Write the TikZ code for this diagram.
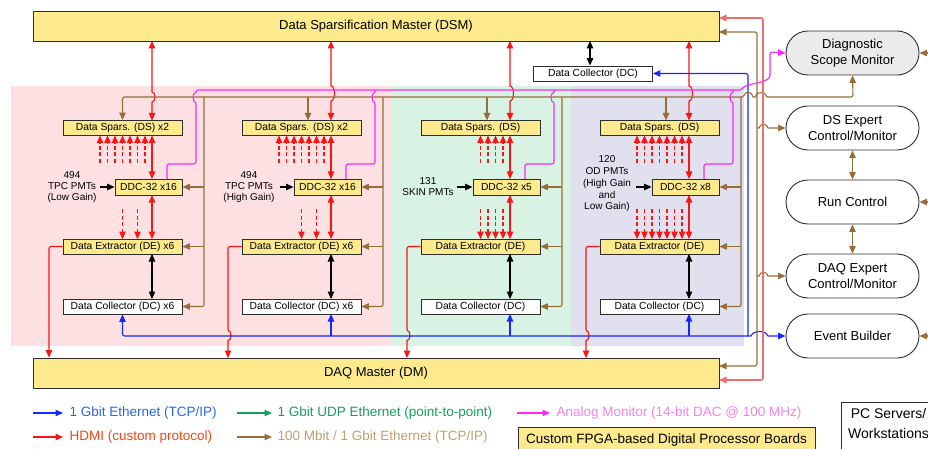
\documentclass[tikz,border=0pt]{standalone}
\usepackage{fontspec}
\setmainfont{Liberation Sans}
\usetikzlibrary{arrows.meta}
\definecolor{fpga}{RGB}{253,234,140}
\definecolor{bgpink}{RGB}{253,224,226}
\definecolor{bggreen}{RGB}{216,242,228}
\definecolor{bgpurple}{RGB}{225,224,238}
\definecolor{cblue}{RGB}{20,40,255}
\definecolor{cred}{RGB}{250,20,20}
\definecolor{clred}{RGB}{240,110,110}
\definecolor{cbrown}{RGB}{150,110,60}
\definecolor{cpink}{RGB}{250,40,250}
\definecolor{cgreen}{RGB}{20,160,90}
\definecolor{bord}{RGB}{45,45,45}
\definecolor{tblue}{RGB}{40,100,240}
\definecolor{tred}{RGB}{240,70,20}
\definecolor{tgreen}{RGB}{20,160,90}
\definecolor{ttan}{RGB}{190,160,110}
\definecolor{tpink}{RGB}{240,130,240}
\definecolor{monfill}{RGB}{235,235,235}
\begin{document}
\begin{tikzpicture}[x=1pt,y=-1pt,
  >={Triangle[length=7.5pt,width=6.5pt]},
  line width=1.1pt,
  board/.style={draw=bord,fill=fpga,line width=0.9pt,inner sep=0pt,font=\fontsize{10.3}{12}\selectfont},
  wboard/.style={board,fill=white},
  bigboard/.style={board,font=\fontsize{13}{15}\selectfont,minimum width=686pt,minimum height=30pt},
  wide/.style={minimum width=119pt,minimum height=15pt},
  ddc/.style={minimum width=67pt,minimum height=16pt},
  pc/.style={draw=bord,line width=0.9pt,rounded corners=22pt,minimum width=133pt,minimum height=44pt,align=center,font=\fontsize{13}{15.5}\selectfont,inner sep=0pt},
  lab/.style={align=center,font=\fontsize{10}{11}\selectfont,inner sep=0pt},
  labb/.style={align=center,font=\fontsize{10}{11.75}\selectfont,inner sep=0pt},
  leg/.style={anchor=west,inner sep=0pt,font=\fontsize{13.5}{16}\selectfont},
  dsh/.style={cred,dash pattern=on 4pt off 2.5pt},
]
\useasboundingbox (0,0) rectangle (928,449);
\clip (0,0) rectangle (928,449);
% backgrounds
\fill[bgpink] (11,86) rectangle (392,346);
\fill[bggreen] (392,86) rectangle (571,346);
\fill[bgpurple] (571,86) rectangle (744,346);

% masters
\node[bigboard] (dsm) at (376,26) {Data Sparsification Master (DSM)};
\node[bigboard] (dm) at (376,373) {DAQ Master (DM)};
\node[wboard,wide] (dct) at (593,73.5) {Data Collector (DC)};

% column 1
\node[board,wide] (ds1) at (122.5,128) {Data Spars. (DS) x2};
\node[board,ddc] (ddc1) at (148.5,187) {DDC-32 x16};
\node[board,wide] (de1) at (122.5,246.5) {Data Extractor (DE) x6};
\node[wboard,wide] (dc1) at (122.5,306.5) {Data Collector (DC) x6};
% column 2
\node[board,wide] (ds2) at (301.5,128) {Data Spars. (DS) x2};
\node[board,ddc] (ddc2) at (327.5,187) {DDC-32 x16};
\node[board,wide] (de2) at (301.5,246.5) {Data Extractor (DE) x6};
\node[wboard,wide] (dc2) at (301.5,306.5) {Data Collector (DC) x6};
% column 3
\node[board,wide] (ds3) at (480.5,128) {Data Spars. (DS)};
\node[board,ddc] (ddc3) at (506.5,187) {DDC-32 x5};
\node[board,wide] (de3) at (480.5,246.5) {Data Extractor (DE)};
\node[wboard,wide] (dc3) at (480.5,306.5) {Data Collector (DC)};
% column 4
\node[board,wide] (ds4) at (659.5,128) {Data Spars. (DS)};
\node[board,ddc] (ddc4) at (685.5,187) {DDC-32 x8};
\node[board,wide] (de4) at (659.5,246.5) {Data Extractor (DE)};
\node[wboard,wide] (dc4) at (659.5,306.5) {Data Collector (DC)};

% input labels
\node[lab] (in1) at (72,187) {494\\TPC PMTs\\(Low Gain)};
\node[lab] (in2) at (249,187) {494\\TPC PMTs\\(High Gain)};
\node[lab] (in3) at (428,187) {131\\SKIN PMTs};
\node[labb] (in4) at (607,184) {120\\OD PMTs\\(High Gain\\and\\Low Gain)};
\draw[->] (100,187) -- (ddc1.west);
\draw[->] (280,187) -- (ddc2.west);
\draw[->] (457,187) -- (ddc3.west);
\draw[->] (636,187) -- (ddc4.west);

% right-hand nodes
\node[pc,fill=monfill] (diag) at (852.5,53) {Diagnostic\\Scope Monitor};
\node[pc] (dsx) at (852.5,128) {DS Expert\\Control/Monitor};
\node[pc] (rc) at (852.5,202) {Run Control};
\node[pc] (daqx) at (852.5,276) {DAQ Expert\\Control/Monitor};
\node[pc] (eb) at (852.5,336) {Event Builder};

% ---------- red links inside columns
\draw[cred,<->] (152,41) -- (152,92) arc[start angle=-90,end angle=90,x radius=3,y radius=5] -- (152,120.5);
\foreach \dx in {179,358,537}{
  \draw[cred,<->] (152+\dx,41) -- (152+\dx,86) arc[start angle=-90,end angle=90,x radius=3.5,y radius=7.5] -- (152+\dx,120.5);
}
\foreach \dx in {0,179,358,537}{
  \draw[cred,<->] (152+\dx,135.5) -- (152+\dx,179);
  \draw[cred,<->] (152+\dx,195) -- (152+\dx,239);
  \draw[<->] (152+\dx,254) -- (152+\dx,299);
}
% dashed
\foreach \dx in {0,179,537}{
  \foreach \x in {100,107.5,115,122.5,130,137.5,145}
    \draw[dsh,->] (\x+\dx,163) -- (\x+\dx,135.5);
}
\foreach \x in {122.5,130,137.5,145}
  \draw[dsh,->] (\x+358,163) -- (\x+358,135.5);
\foreach \dx in {0,179}{
  \foreach \x in {122.5,137.5}
    \draw[dsh,->] (\x+\dx,209) -- (\x+\dx,239);
}
\foreach \x in {122.5,130,137.5,145}
  \draw[dsh,->] (\x+358,209) -- (\x+358,239);
\foreach \x in {100,107.5,115,122.5,130,137.5,145}
  \draw[dsh,->] (\x+537,209) -- (\x+537,239);

% DE -> DM
\draw[cred,->,rounded corners=2] (de1.west) -- (49,246.5) -- (dm.north -| 49,0);
\draw[cred,->] (de2.west) [rounded corners=2] -- (228,246.5) -- (228,331.5) [sharp corners] arc[start angle=-90,end angle=90,x radius=3,y radius=4.5] -- (228,358);
\draw[cred,->] (de3.west) [rounded corners=2] -- (407,246.5) -- (407,331.5) [sharp corners] arc[start angle=-90,end angle=90,x radius=3,y radius=4.5] -- (407,358);
\draw[cred,->] (de4.west) [rounded corners=2] -- (586,246.5) -- (586,331.5) [sharp corners] arc[start angle=-90,end angle=90,x radius=3,y radius=4.5] -- (586,358);

% DSM <-> top DC
\draw[<->] (590,41) -- (dct.north -| 590,0);

% ---------- blue
\coordinate (bj) at (748,336);
\draw[cblue,->,rounded corners=2] (bj) -- (748,73.5) -- (dct.east);
\draw[cblue,->,rounded corners=2] (bj) -- (122.5,336) -- (dc1.south);
\draw[cblue,->] (331,336) -- (331,314);
\draw[cblue,->] (510,336) -- (510,314);
\draw[cblue,->] (689,336) -- (689,314);
\draw[cblue,->] (bj) -- (751,336) .. controls (753,330) and (766,330) .. (768,336) -- (eb.west);

% ---------- brown
\draw[cbrown,<->] (ds1.north) [rounded corners=2] -- (122.5,97) -- (744,97) [sharp corners]
  .. controls (745,91) and (752,91) .. (753,97) -- (755,97)
  .. controls (756,91) and (766,91) .. (767,97) [rounded corners=2] -- (853,97) -- (diag.south);
\foreach \x in {308,487,666}
  \draw[cbrown,->] (\x,97) -- (\x,120.5);
\foreach \i/\dx in {1/0,2/179,3/358,4/537}{
  \draw[cbrown,->,rounded corners=2] (204+\dx,97) -- (204+\dx,306.5) -- (dc\i.east);
  \draw[cbrown,->] (204+\dx,187) -- (ddc\i.east);
  \draw[cbrown,->] (204+\dx,246.5) -- (de\i.east);
}
\draw[cbrown,<->,rounded corners=2] (719,32) -- (757,32) -- (757,366) -- (719,366);
\draw[cbrown,->] (757,128) -- (759,128) .. controls (760,123) and (767,123) .. (768,128) -- (dsx.west);
\draw[cbrown,->] (757,276) -- (759,276) .. controls (760,271) and (767,271) .. (768,276) -- (daqx.west);
\draw[cbrown,<->] (dsx.south) -- (rc.north);
\draw[cbrown,<->] (rc.south) -- (daqx.north);
\draw[cbrown,->] (940,53) -- (diag.east);
\draw[cbrown,->] (940,202) -- (rc.east);
\draw[cbrown,->] (940,336) -- (eb.east);

% light red HDMI on right
\draw[clred,<->,line width=1.6pt,rounded corners=2] (719,18) -- (763,18) -- (763,380) -- (719,380);

% ---------- pink
\draw[cpink,->] (167,179) [rounded corners=2] -- (167,164) -- (196,164) -- (196,101.5) [sharp corners]
  arc[start angle=90,end angle=270,x radius=3,y radius=4.5] [rounded corners=2] -- (196,90) -- (742,90) [sharp corners]
  .. controls (745,83) and (768,84) .. (770,76) [rounded corners=2] -- (770,52) -- (diag.west);
\foreach \dx in {179,358,537}{
  \draw[cpink] (167+\dx,179) [rounded corners=2] -- (167+\dx,164) -- (196+\dx,164) -- (196+\dx,101.5) [sharp corners]
    arc[start angle=90,end angle=270,x radius=3,y radius=4.5] -- (196+\dx,90);
}

% ---------- legend
\draw[cblue,->] (33,413) -- (63,413);
\node[leg,text=tblue] (l1) at (69,413) {1 Gbit Ethernet (TCP/IP)};
\draw[cred,->] (33,437) -- (63,437);
\node[leg,text=tred] (l2) at (69,437) {HDMI (custom protocol)};
\draw[cgreen,->] (237,413) -- (272,413);
\node[leg,text=tgreen] (l3) at (277,413) {1 Gbit UDP Ethernet (point-to-point)};
\draw[cbrown,->] (237,437) -- (272,437);
\node[leg,text=ttan] (l4) at (277,437) {100 Mbit / 1 Gbit Ethernet (TCP/IP)};
\draw[cpink,->] (517,413) -- (550,413);
\node[leg,text=tpink] (l5) at (556,413) {Analog Monitor (14-bit DAC @ 100 MHz)};
\node[board,font=\fontsize{13.5}{16}\selectfont,minimum width=297pt,minimum height=26pt] (l6) at (666.5,440) {Custom FPGA-based Digital Processor Boards};
\draw[bord,line width=0.9pt] (841,402) rectangle (940,470);
\node[align=center,inner sep=0pt,font=\fontsize{14}{20}\selectfont] (l7) at (888.5,423.5) {PC Servers/\\Workstations};
\end{tikzpicture}
\end{document}
